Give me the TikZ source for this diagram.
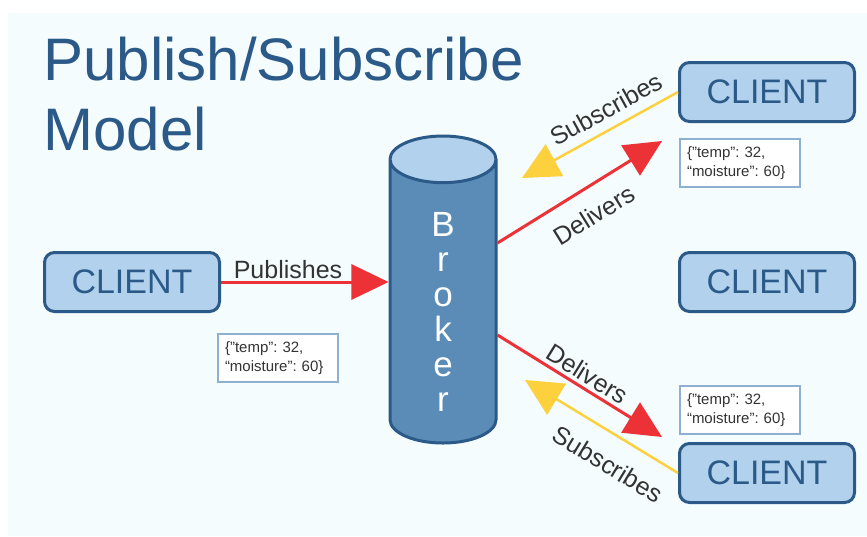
\documentclass[tikz,border=0pt]{standalone}
\usepackage{fontspec}
\setmainfont{Liberation Sans}
\usepackage{tikz}
\usetikzlibrary{shapes,arrows,positioning,calc,arrows.meta}

\definecolor{titleblue}{HTML}{2B5A88}
\definecolor{clientfill}{HTML}{B2D1EC}
\definecolor{brokerfill}{HTML}{5B8CB7}
\definecolor{pubred}{HTML}{EC3237}
\definecolor{subyellow}{HTML}{FDD03E}
\definecolor{labelgray}{HTML}{333333}
\definecolor{databorder}{HTML}{8FB1D1}
\definecolor{bgcyan}{HTML}{F4FCFD}

\tikzset{
  client/.style={draw=titleblue, line width=3pt, fill=clientfill, rounded corners=10pt,
    minimum width=175pt, minimum height=59pt, text=titleblue, font=\fontsize{34}{34}\selectfont},
  payload/.style={draw=databorder, line width=1.2pt, fill=white, minimum width=120pt,
    minimum height=48pt, inner sep=5pt, text width=106pt, align=left, text=labelgray,
    font=\fontsize{15}{19}\selectfont},
  deliver/.style={draw=pubred, line width=3pt, -{Triangle[length=37pt,width=35pt]}},
  subscribe/.style={draw=subyellow, line width=2.5pt, -{Triangle[length=37pt,width=36pt]}},
  arrowlabel/.style={text=labelgray, font=\fontsize{25}{25}\selectfont, sloped}
}

\begin{document}
\frenchspacing
\begin{tikzpicture}[x=1pt,y=-1pt]
    \useasboundingbox (0,0) rectangle (867,536);
    \fill[white] (0,0) rectangle (867,536);
    \fill[bgcyan] (8,13) rectangle (867,536);

    % title
    \node[anchor=base west, text=titleblue, font=\fontsize{60}{60}\selectfont] (title) at (40,80) {Publish/Subscribe};
    \node[anchor=base west, text=titleblue, font=\fontsize{60}{60}\selectfont] (model) at (40,150) {Model};

    % broker
    \node[cylinder, shape border rotate=90, aspect=7, minimum width=106pt, minimum height=307pt,
      draw=titleblue, line width=3pt, cylinder uses custom fill, cylinder body fill=brokerfill,
      cylinder end fill=clientfill] (broker) at (443,306) {};
    \node[text=white, font=\fontsize{35}{35}\selectfont, align=center] (brokertext) at (443,312) {B\\r\\o\\k\\e\\r};

    % clients
    \node[client] (lclient) at (132,282) {CLIENT};
    \node[client] (tclient) at (767,92) {CLIENT};
    \node[client] (mclient) at (767,282) {CLIENT};
    \node[client] (bclient) at (767,473) {CLIENT};

    % messages
    \node[payload] (lmsg) at (278,358) {\{"temp": 32,\\“moisture”: 60\}};
    \node[payload] (tmsg) at (740,163) {\{"temp": 32,\\“moisture”: 60\}};
    \node[payload] (bmsg) at (740,410) {\{"temp": 32,\\“moisture”: 60\}};

    % arrow tips
    \coordinate (ttip) at (662,141);
    \coordinate (btip) at (662,437);
    \coordinate (tsub) at (522,178);
    \coordinate (bsub) at (525,380);

    \draw[deliver] (lclient.east) -- (lclient.east -| broker.west) node[pos=0.4, above, inner sep=2pt, arrowlabel] {Publishes};
    \draw[deliver] ($(broker.east)+(0,-63)$) -- (ttip) node[midway, below=13pt, arrowlabel] {Delivers};
    \draw[deliver] ($(broker.east)+(0,29)$) -- (btip) node[midway, above, arrowlabel] {Delivers};
    \draw[subscribe] (tclient.west) -- (tsub) node[pos=0.4, above=6pt, arrowlabel] {Subscribes};
    \draw[subscribe] (bclient.west) -- (bsub) node[pos=0.36, below=15pt, arrowlabel] {Subscribes};
\end{tikzpicture}
\end{document}
